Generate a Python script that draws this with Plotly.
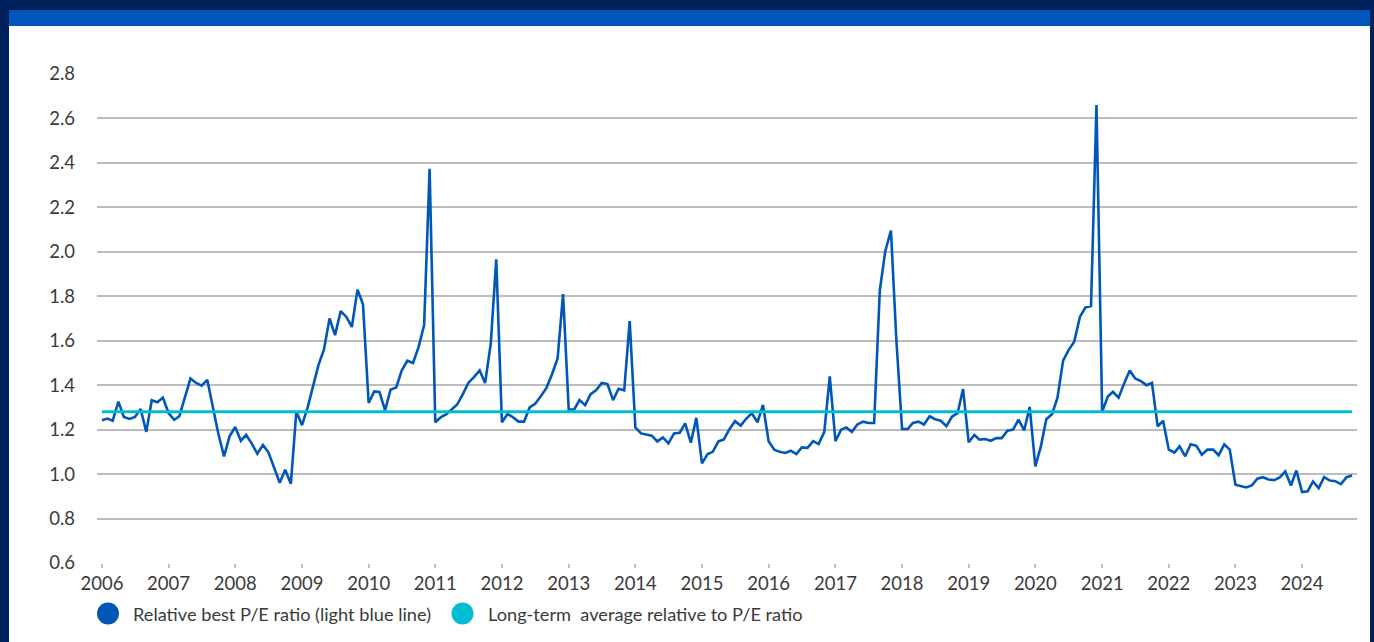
import pandas as pd
import plotly.graph_objects as go

# Monthly relative best P/E ratio, Jan 2006 - Oct 2024
pe_2006 = [1.242, 1.25, 1.24, 1.326, 1.257, 1.248, 1.257, 1.293, 1.19, 1.332, 1.323, 1.344]
pe_2007 = [1.275, 1.244, 1.26, 1.347, 1.43, 1.41, 1.398, 1.424, 1.30, 1.18, 1.08, 1.17]
pe_2008 = [1.212, 1.15, 1.176, 1.137, 1.092, 1.131, 1.098, 1.032, 0.961, 1.02, 0.957, 1.282]
pe_2009 = [1.22, 1.30, 1.385, 1.49, 1.56, 1.70, 1.625, 1.733, 1.707, 1.662, 1.83, 1.764]
pe_2010 = [1.32, 1.372, 1.37, 1.287, 1.38, 1.39, 1.466, 1.51, 1.50, 1.57, 1.67, 2.374]
pe_2011 = [1.233, 1.256, 1.268, 1.289, 1.313, 1.36, 1.41, 1.436, 1.466, 1.41, 1.587, 1.966]
pe_2012 = [1.233, 1.27, 1.256, 1.236, 1.236, 1.30, 1.316, 1.35, 1.388, 1.448, 1.52, 1.81]
pe_2013 = [1.29, 1.292, 1.333, 1.31, 1.36, 1.378, 1.41, 1.405, 1.333, 1.384, 1.377, 1.688]
pe_2014 = [1.21, 1.183, 1.177, 1.173, 1.147, 1.165, 1.138, 1.183, 1.186, 1.228, 1.141, 1.253]
pe_2015 = [1.048, 1.09, 1.10, 1.147, 1.156, 1.203, 1.238, 1.218, 1.25, 1.274, 1.233, 1.311]
pe_2016 = [1.148, 1.11, 1.10, 1.095, 1.105, 1.09, 1.12, 1.118, 1.148, 1.135, 1.19, 1.44]
pe_2017 = [1.148, 1.20, 1.21, 1.19, 1.223, 1.236, 1.23, 1.23, 1.826, 2.003, 2.096, 1.60]
pe_2018 = [1.203, 1.203, 1.23, 1.236, 1.223, 1.26, 1.247, 1.24, 1.216, 1.258, 1.274, 1.383]
pe_2019 = [1.143, 1.176, 1.155, 1.158, 1.15, 1.162, 1.162, 1.195, 1.20, 1.245, 1.197, 1.302]
pe_2020 = [1.035, 1.127, 1.247, 1.269, 1.343, 1.51, 1.558, 1.595, 1.707, 1.749, 1.756, 2.66]
pe_2021 = [1.28, 1.349, 1.37, 1.344, 1.407, 1.466, 1.43, 1.418, 1.40, 1.41, 1.215, 1.24]
pe_2022 = [1.11, 1.097, 1.125, 1.08, 1.134, 1.127, 1.087, 1.11, 1.11, 1.085, 1.134, 1.11]
pe_2023 = [0.952, 0.946, 0.94, 0.949, 0.979, 0.986, 0.976, 0.973, 0.985, 1.012, 0.949, 1.016]
pe_2024 = [0.919, 0.923, 0.967, 0.937, 0.986, 0.971, 0.968, 0.955, 0.986, 0.994]

long_term_average = 1.28

tick_years = list(range(2006, 2025))
y_ticks = [0.6, 0.8, 1.0, 1.2, 1.4, 1.6, 1.8, 2.0, 2.2, 2.4, 2.6, 2.8]

series_name = "Relative best P/E ratio (light blue line)"
average_name = "Long-term\u00a0 average relative to P/E ratio"

pe_values = (pe_2006 + pe_2007 + pe_2008 + pe_2009 + pe_2010 + pe_2011 + pe_2012
             + pe_2013 + pe_2014 + pe_2015 + pe_2016 + pe_2017 + pe_2018 + pe_2019
             + pe_2020 + pe_2021 + pe_2022 + pe_2023 + pe_2024)
dates = pd.date_range("2006-01-01", periods=len(pe_values), freq="MS")

# Page geometry (pixels)
W, H = 1374, 642
ML, MR, MT, MB = 97, 17, 74, 79
PW, PH = W - ML - MR, H - MT - MB


def px(x):
    return (x - ML) / PW


def py(y):
    return (H - MB - y) / PH


NAVY = "#00205c"
BLUE = "#0057b8"
CYAN = "#00bcd4"
TEXT = "#3a3a3a"
GRID = "#bdbdbd"
FONT = "Lato"
TICK_SIZE = 18.5
LEGEND_SIZE = 18.2

fig = go.Figure()
fig.add_trace(go.Scatter(
    x=dates, y=pe_values, mode="lines", name=series_name,
    line=dict(color=BLUE, width=2.6), showlegend=False,
))
fig.add_trace(go.Scatter(
    x=[dates[0], dates[-1]], y=[long_term_average, long_term_average],
    mode="lines", name=average_name,
    line=dict(color=CYAN, width=3), showlegend=False,
))

shapes = [
    # white card and blue header strip on the navy page
    dict(type="rect", xref="paper", yref="paper", layer="below",
         x0=px(9), x1=px(1370), y0=py(H), y1=py(26),
         fillcolor="white", line=dict(width=0)),
    dict(type="rect", xref="paper", yref="paper", layer="below",
         x0=px(9), x1=px(1370), y0=py(26), y1=py(10),
         fillcolor=BLUE, line=dict(width=0)),
]

annotations = []
legend_items = [(108, 131, BLUE, series_name), (462.5, 486, CYAN, average_name)]
for cx, tx, color, label in legend_items:
    cy, r = 613.5, 11
    shapes.append(dict(type="circle", xref="paper", yref="paper",
                       x0=px(cx - r), x1=px(cx + r), y0=py(cy + r), y1=py(cy - r),
                       fillcolor=color, line=dict(width=0)))
    annotations.append(dict(xref="paper", yref="paper", x=px(tx), y=py(cy),
                            xanchor="left", yanchor="middle", showarrow=False,
                            text=label, font=dict(family=FONT, size=LEGEND_SIZE, color=TEXT)))

fig.update_layout(
    width=W, height=H,
    margin=dict(l=ML, r=MR, t=MT, b=MB),
    paper_bgcolor=NAVY, plot_bgcolor="rgba(0,0,0,0)",
    shapes=shapes, annotations=annotations,
    showlegend=False,
    font=dict(family=FONT, color=TEXT, size=TICK_SIZE),
)
fig.update_xaxes(
    type="date", range=["2005-12-05", "2024-10-28"],
    tickvals=[pd.Timestamp(f"{y}-01-01") for y in tick_years],
    ticktext=[str(y) for y in tick_years],
    ticks="outside", ticklen=4, tickcolor=GRID, tickwidth=1.5,
    showgrid=False, showline=False, zeroline=False,
    tickfont=dict(family=FONT, size=TICK_SIZE, color=TEXT),
)
fig.update_yaxes(
    range=[0.6, 2.8], tickvals=y_ticks,
    ticktext=[f"{v:.1f}" for v in y_ticks],
    showgrid=True, gridcolor=GRID, gridwidth=1.5,
    zeroline=False, showline=False, ticks="", ticklabelstandoff=21,
    tickfont=dict(family=FONT, size=TICK_SIZE, color=TEXT),
)

fig.write_html("out.html")
